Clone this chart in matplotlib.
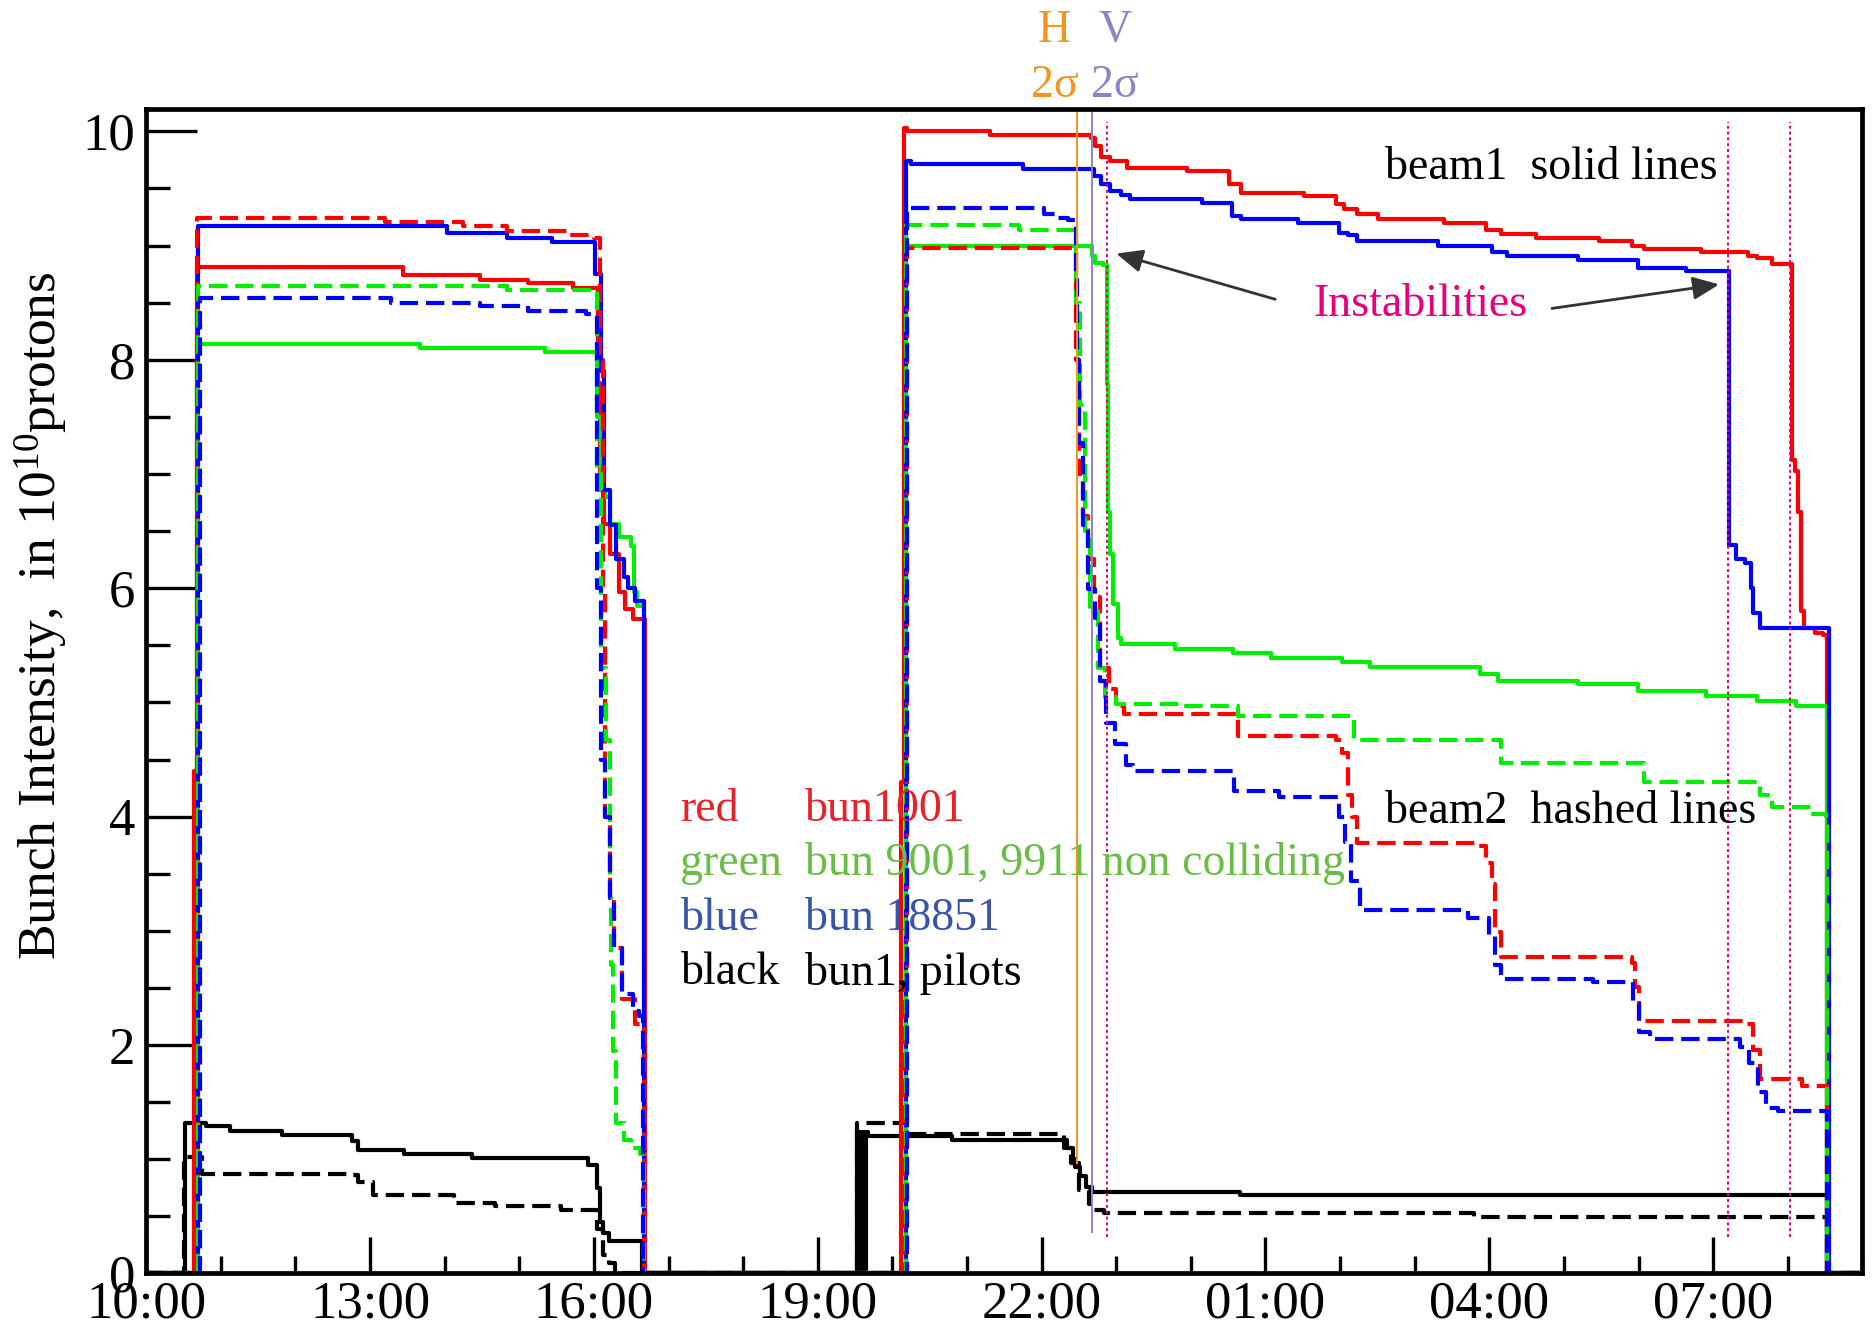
import matplotlib
matplotlib.use('Agg')
import matplotlib.pyplot as plt
from matplotlib.ticker import FixedLocator, MultipleLocator, FuncFormatter

plt.rcParams['font.family'] = ['Liberation Serif', 'DejaVu Serif']
plt.rcParams['mathtext.fontset'] = 'custom'
plt.rcParams['mathtext.rm'] = 'Liberation Serif'
plt.rcParams['mathtext.it'] = 'Liberation Serif:italic'

# time in hours after 10:00, intensity in 1e10 protons (step data)
b1_red_t = [0, 0.64, 0.68, 3.44, 4.48, 5.12, 5.72, 6.05, 6.08, 6.14, 6.22, 6.33, 6.42, 6.52, 6.68,
            10.12, 10.15, 10.20, 11.31, 12.66, 12.71, 12.79, 12.91, 13.15, 13.95,
            14.51, 14.67, 15.51, 15.95, 16.05, 16.23, 16.51, 17.39, 17.95, 18.15,
            18.63, 19.47, 19.91, 20.07, 20.83, 21.47, 21.59, 21.79, 22.05, 22.10,
            22.13, 22.17, 22.22, 22.37, 22.47, 22.53, 23.0]
b1_red_v = [0, 4.4, 8.81, 8.74, 8.70, 8.67, 8.63, 7.8, 6.86, 6.56, 6.30, 5.97, 5.82, 5.73, 0,
            4.3, 10.03, 10.0, 9.97, 9.94, 9.87, 9.78, 9.74, 9.68, 9.65,
            9.54, 9.46, 9.43, 9.36, 9.32, 9.28, 9.23, 9.20, 9.14, 9.10,
            9.07, 9.04, 9.00, 8.97, 8.94, 8.91, 8.89, 8.84, 7.12, 7.03,
            6.67, 5.80, 5.65, 5.61, 5.59, 0, 0]

b2_red_t = [0, 0.68, 3.20, 4.24, 4.83, 5.67, 6.00, 6.08, 6.12, 6.15, 6.22, 6.27, 6.38, 6.55, 6.62, 6.67,
            10.17, 10.19, 12.46, 12.50, 12.55, 12.62, 12.70, 12.78, 12.90, 13.00, 13.10,
            14.63, 15.94, 16.02, 16.10, 16.16, 16.22, 17.85, 17.95, 18.03, 18.08, 18.15,
            19.91, 19.95, 20.00, 21.45, 21.53, 21.63, 22.19, 22.53, 23.0]
b2_red_v = [0, 9.24, 9.21, 9.17, 9.13, 9.09, 9.07, 8.0, 6.0, 4.0, 3.29, 2.85, 2.40, 2.18, 2.14, 0,
            2.5, 8.98, 8.0, 7.0, 6.63, 6.26, 5.92, 5.30, 5.12, 4.97, 4.90,
            4.71, 4.67, 4.56, 4.19, 4.00, 3.77, 3.74, 3.59, 3.41, 2.99, 2.77,
            2.72, 2.51, 2.21, 2.18, 1.96, 1.70, 1.64, 0, 0]

b1_blue_t = [0, 0.70, 4.03, 4.83, 5.44, 6.02, 6.10, 6.14, 6.22, 6.30, 6.40, 6.46, 6.55, 6.67,
             10.18, 10.25, 11.75, 12.70, 12.79, 12.91, 13.07, 13.19, 14.15, 14.55,
             14.67, 15.43, 15.99, 16.11, 16.23, 17.31, 18.03, 18.23, 19.19, 19.99,
             20.63, 21.21, 21.31, 21.43, 21.51, 21.53, 21.63, 22.55, 23.0]
b1_blue_v = [0, 9.17, 9.11, 9.07, 9.03, 8.75, 7.9, 6.86, 6.55, 6.26, 6.10, 6.0, 5.89, 0,
             9.74, 9.71, 9.67, 9.61, 9.54, 9.48, 9.44, 9.41, 9.37, 9.26,
             9.23, 9.20, 9.11, 9.09, 9.04, 9.00, 8.94, 8.91, 8.87, 8.80,
             8.78, 6.38, 6.26, 6.22, 6.0, 5.78, 5.65, 0, 0]

b2_blue_t = [0, 0.72, 3.28, 4.48, 5.12, 5.89, 6.04, 6.10, 6.15, 6.22, 6.27, 6.38, 6.52, 6.60, 6.66,
             10.20, 12.03, 12.20, 12.35, 12.46, 12.48, 12.50, 12.55, 12.62, 12.71,
             12.78, 12.86, 12.98, 13.13, 13.22, 14.58, 15.18, 15.99, 16.07, 16.15,
             16.26, 17.71, 18.00, 18.08, 18.15, 19.39, 19.93, 20.00, 20.15, 21.36,
             21.48, 21.60, 21.71, 21.87, 22.53, 23.0]
b2_blue_v = [0, 8.54, 8.50, 8.47, 8.43, 8.40, 6.0, 4.5, 4.0, 3.29, 2.85, 2.45, 2.30, 2.25, 0,
             9.33, 9.28, 9.24, 9.22, 8.77, 8.0, 7.27, 6.55, 5.99, 5.74,
             5.19, 4.82, 4.64, 4.45, 4.40, 4.22, 4.17, 4.00, 3.78, 3.44,
             3.18, 3.11, 2.96, 2.70, 2.58, 2.55, 2.37, 2.11, 2.05, 1.98,
             1.84, 1.59, 1.45, 1.42, 0, 0]

b1_green_t = [0, 0.70, 3.67, 5.35, 6.04, 6.10, 6.15, 6.22, 6.34, 6.50, 6.54, 6.58, 6.67,
              10.18, 12.67, 12.71, 12.82, 12.87, 12.89, 12.92, 12.96, 13.03, 13.07,
              13.79, 14.57, 15.07, 16.03, 16.40, 17.87, 18.11, 19.19, 19.99, 20.91,
              21.59, 22.11, 22.53, 23.0]
b1_green_v = [0, 8.14, 8.10, 8.07, 7.5, 6.86, 6.80, 6.56, 6.45, 6.37, 5.97, 5.84, 0,
              9.00, 8.91, 8.85, 8.83, 7.79, 6.67, 6.30, 5.86, 5.56, 5.51,
              5.47, 5.43, 5.39, 5.35, 5.31, 5.25, 5.19, 5.16, 5.10, 5.06,
              5.01, 4.97, 0, 0]

b2_green_t = [0, 0.70, 4.83, 6.04, 6.10, 6.16, 6.21, 6.23, 6.25, 6.30, 6.40, 6.50, 6.62, 6.67,
              10.18, 11.70, 12.46, 12.52, 12.58, 12.65, 12.75, 12.85, 13.00, 13.87,
              14.63, 16.19, 18.15, 20.07, 21.63, 21.79, 22.31, 22.51, 22.53, 23.0]
b2_green_v = [0, 8.65, 8.61, 7.0, 5.3, 4.67, 3.29, 2.7, 1.95, 1.32, 1.17, 1.10, 1.05, 0,
              9.18, 9.14, 8.5, 7.6, 6.5, 5.8, 5.3, 5.05, 4.99, 4.97,
              4.88, 4.67, 4.47, 4.30, 4.19, 4.08, 4.02, 3.96, 0, 0]

b1_black_t = [0, 0.52, 0.80, 1.12, 1.82, 2.76, 2.84, 3.46, 4.36, 5.92, 6.04, 6.08, 6.12, 6.20, 6.64,
              9.52, 9.545, 9.56, 9.585, 9.60, 9.625, 9.64, 9.67, 10.80, 12.34,
              12.42, 12.45, 12.52, 12.60, 12.67, 14.66, 22.52, 23.0]
b1_black_v = [0, 1.32, 1.29, 1.25, 1.21, 1.16, 1.08, 1.05, 1.01, 0.95, 0.75, 0.45, 0.35, 0.28, 0,
              1.24, 0, 1.24, 0, 1.24, 0, 1.24, 1.20, 1.17, 1.10,
              1.00, 0.93, 0.85, 0.76, 0.71, 0.69, 0, 0]

b2_black_t = [0, 0.50, 0.75, 2.76, 2.84, 3.04, 4.12, 4.68, 5.56, 6.04, 6.12, 6.20, 6.28,
              9.52, 10.20, 12.30, 12.40, 12.50, 12.63, 12.70, 12.84, 17.79, 22.52, 23.0]
b2_black_v = [0, 1.02, 0.875, 0.86, 0.80, 0.69, 0.62, 0.59, 0.56, 0.39, 0.16, 0.09, 0,
              1.32, 1.22, 1.10, 0.97, 0.73, 0.61, 0.555, 0.525, 0.49, 0, 0]

# markers: emittance scan and instabilities
h_scan_t = 12.48
v_scan_t = 12.67
instab_t = [12.87, 21.2, 22.03]

legend_keys = ['red', 'green', 'blue', 'black']
legend_names = ['bun1001', 'bun 9001, 9911 non colliding', 'bun 18851', 'bun1, pilots']
legend_colors = ['#e8222a', '#6abd45', '#3a55a5', 'black']
legend_rows = [4.06, 3.59, 3.11, 2.63]

RED, GREEN, BLUE = '#ff0000', '#00ee00', '#0000ff'
ORANGE, PURPLE, MAGENTA = '#f7941d', '#8a85c8', '#e6007e'

fig = plt.figure(figsize=(18.72, 13.35), dpi=100)
ax = fig.add_axes([0.0781, 0.0461, 0.9168, 0.8726])

lw = 3.0
dash = (0, (4.4, 1.9))
ax.plot(b1_black_t, b1_black_v, color='black', lw=lw, drawstyle='steps-post')
ax.plot(b2_black_t, b2_black_v, color='black', lw=lw, ls=dash, drawstyle='steps-post')
ax.plot(b1_red_t, b1_red_v, color=RED, lw=lw, drawstyle='steps-post')
ax.plot(b1_green_t, b1_green_v, color=GREEN, lw=lw, drawstyle='steps-post')
ax.plot(b1_blue_t, b1_blue_v, color=BLUE, lw=lw, drawstyle='steps-post')
ax.plot(b2_red_t, b2_red_v, color=RED, lw=lw, ls=dash, drawstyle='steps-post')
ax.plot(b2_green_t, b2_green_v, color=GREEN, lw=lw, ls=dash, drawstyle='steps-post')
ax.plot(b2_blue_t, b2_blue_v, color=BLUE, lw=lw, ls=dash, drawstyle='steps-post')

ax.vlines(h_scan_t, 0.96, 10.2, color=ORANGE, lw=1.4, clip_on=False)
ax.vlines(v_scan_t, 0.35, 10.2, color=PURPLE, lw=1.4, clip_on=False)
ax.vlines(instab_t, 0.32, 10.08, color=MAGENTA, lw=1.4, linestyles=(0, (1.5, 1.5)))

ax.set_xlim(0, 23.0)
ax.set_ylim(0, 10.2)

ax.xaxis.set_major_locator(FixedLocator([0, 3, 6, 9, 12, 15, 18, 21]))
ax.xaxis.set_minor_locator(MultipleLocator(1))
ax.xaxis.set_major_formatter(FuncFormatter(lambda h, p: '%02d:00' % ((10 + int(round(h))) % 24)))
ax.yaxis.set_major_locator(MultipleLocator(2))
ax.yaxis.set_minor_locator(MultipleLocator(0.5))
ax.yaxis.set_major_formatter(FuncFormatter(lambda v, p: '%d' % v))

ax.tick_params(axis='both', which='both', direction='in', top=False, right=False, width=2.4)
ax.tick_params(axis='x', which='major', length=26, pad=5, labelsize=38)
ax.tick_params(axis='x', which='minor', length=12)
ax.tick_params(axis='y', which='major', length=37, pad=8, labelsize=38)
ax.tick_params(axis='y', which='minor', length=17)
for sp in ax.spines.values():
    sp.set_linewidth(3.4)

ax.set_ylabel(r'Bunch Intensity,  in 10$^{\mathregular{10}}$protons', fontsize=38.5, va='center')
ax.yaxis.set_label_coords(-0.061, 0.565)

# labels inside the plot
ax.text(16.6, 9.68, 'beam1  solid lines', fontsize=33, va='center', ha='left')
ax.text(16.6, 4.04, 'beam2  hashed lines', fontsize=33, va='center', ha='left')
ax.text(15.64, 8.48, 'Instabilities', fontsize=33, va='center', ha='left', color=MAGENTA)
arrow = dict(arrowstyle='-|>,head_length=0.8,head_width=0.35', color='#333333', lw=2,
             mutation_scale=20, shrinkA=0, shrinkB=0)
ax.annotate('', xy=(13.0, 8.93), xytext=(15.13, 8.53), arrowprops=arrow)
ax.annotate('', xy=(21.08, 8.66), xytext=(18.84, 8.45), arrowprops=arrow)

for key, name, col, yv in zip(legend_keys, legend_names, legend_colors, legend_rows):
    ax.text(7.16, yv, key, fontsize=33, va='center', ha='left', color=col)
    ax.text(8.83, yv, name, fontsize=33, va='center', ha='left', color=col)

fig.text(0.5633, 0.977, 'H', fontsize=33, color=ORANGE, ha='center', va='center')
fig.text(0.5633, 0.936, '2σ', fontsize=33, color=ORANGE, ha='center', va='center')
fig.text(0.5956, 0.977, 'V', fontsize=33, color=PURPLE, ha='center', va='center')
fig.text(0.5956, 0.936, '2σ', fontsize=33, color=PURPLE, ha='center', va='center')

fig.savefig('out.png', dpi=100)
